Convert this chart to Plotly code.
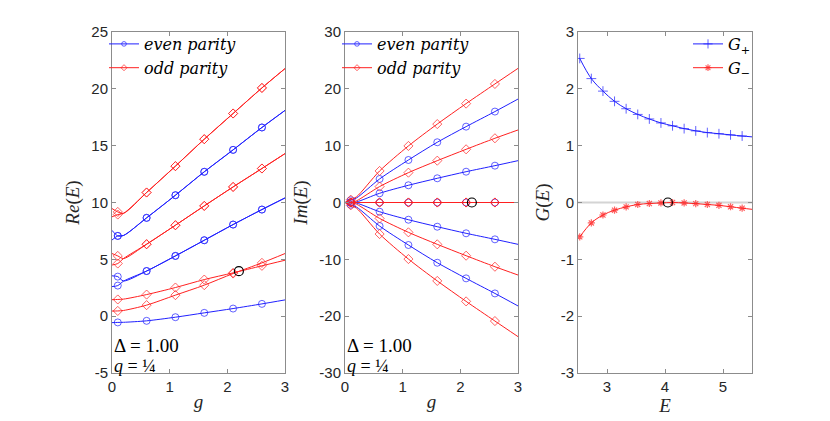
import plotly.graph_objects as go

# g grid for panels 1 and 2 (markers only at 0.1, 0.6, ... 2.6)
g_grid = [0, 0.1, 0.2, 0.6, 1.1, 1.6, 2.1, 2.6, 3.0]
g_marked = [0, 1, 0, 1, 1, 1, 1, 1, 0]

# Re(E), even parity
re_e0 = [-0.57, -0.55, -0.54, -0.41, -0.09, 0.29, 0.67, 1.08, 1.43]
re_e1a = [3.55, 3.48, 3.10, 3.97, 5.30, 6.68, 8.06, 9.38, 10.40]
re_e1b = [2.60, 2.69, 3.08, 3.97, 5.30, 6.68, 8.06, 9.38, 10.40]
re_e2a = [7.55, 7.06, 7.10, 8.65, 10.64, 12.70, 14.63, 16.60, 18.10]
re_e2b = [6.70, 7.06, 7.10, 8.65, 10.64, 12.70, 14.63, 16.60, 18.10]
# Re(E), odd parity
re_o0 = [0.45, 0.46, 0.50, 0.97, 1.85, 2.73, 3.75, 4.69, 5.51]
re_o1 = [1.45, 1.47, 1.50, 1.90, 2.52, 3.22, 3.81, 4.43, 4.92]
re_o2a = [5.51, 5.30, 5.07, 6.33, 8.00, 9.70, 11.37, 12.99, 14.30]
re_o2b = [4.50, 4.63, 5.07, 6.33, 8.00, 9.70, 11.37, 12.99, 14.30]
re_o3a = [9.47, 9.17, 9.05, 10.88, 13.20, 15.57, 17.83, 20.08, 21.78]
re_o3b = [8.74, 8.94, 9.05, 10.88, 13.20, 15.57, 17.83, 20.08, 21.78]

# Im(E), even parity
im_e0 = [0, 0, 0, 0, 0, 0, 0, 0, 0]
im_e1a = [0, 0, 0.1, 1.62, 3.03, 4.26, 5.42, 6.48, 7.36]
im_e1b = [0, 0, -0.1, -1.62, -3.03, -4.26, -5.42, -6.48, -7.36]
im_e2a = [0, 0.4, 0.8, 4.14, 7.48, 10.60, 13.35, 16.00, 18.20]
im_e2b = [0, -0.4, -0.8, -4.14, -7.48, -10.60, -13.35, -16.00, -18.20]
# Im(E), odd parity
im_o0 = [0, 0, 0, 0, 0, 0, 0, 0, 0]
im_o1 = [0, 0, 0, 0, 0, 0, 0, 0, 0]
im_o2a = [0, 0, 0.3, 2.80, 5.25, 7.36, 9.36, 11.30, 12.76]
im_o2b = [0, 0, -0.3, -2.80, -5.25, -7.36, -9.36, -11.30, -12.76]
im_o3a = [0, 0.5, 1.0, 5.55, 9.95, 13.80, 17.40, 20.86, 23.60]
im_o3b = [0, -0.5, -1.0, -5.55, -9.95, -13.80, -17.40, -20.86, -23.60]

# G(E) panel
e_pts = [2.53, 2.73, 2.93, 3.13, 3.33, 3.53, 3.73, 3.93, 4.13, 4.33, 4.53,
         4.73, 4.93, 5.13, 5.33, 5.50]
e_marked = [1] * 15 + [0]
g_plus = [2.535, 2.18, 1.96, 1.78, 1.65, 1.55, 1.47, 1.40, 1.35, 1.30, 1.26,
          1.23, 1.21, 1.19, 1.17, 1.155]
g_minus = [-0.605, -0.36, -0.22, -0.135, -0.077, -0.035, -0.018, -0.008, 0.0,
           -0.008, -0.02, -0.035, -0.05, -0.075, -0.10, -0.12]

# exceptional point marks
ep_g = [2.2]
ep_re = [3.96]
ep_im = [0]
ep_e = [4.05]
ep_G = [0]

# ticks
tick_re = [-5, 0, 5, 10, 15, 20, 25]
tick_im = [-30, -20, -10, 0, 10, 20, 30]
tick_G = [-3, -2, -1, 0, 1, 2, 3]
tick_g = [0, 1, 2, 3]
tick_e = [3, 4, 5]

BLUE = "#2020ff"
RED = "#ff2020"
SERIF = "Liberation Serif"
LEGSERIF = "DejaVu Serif"
SANS = "Liberation Sans"
W, H = 830, 421
OFF = 8  # page body margin


def px_x(a, b):
    return [(a - OFF) / W, (b - OFF) / W]


def px_y(top, bottom):
    return [1 - (bottom - OFF) / H, 1 - (top - OFF) / H]


def msizes(flags, s):
    return [s if f else 0 for f in flags]


fig = go.Figure()

# light zero line of the G(E) panel
fig.add_shape(type="line", xref="x3 domain", yref="y3", x0=0, x1=1, y0=0, y1=0,
              line=dict(color="#d4d4d4", width=2), layer="below")

even_re = [re_e0, re_e1a, re_e1b, re_e2a, re_e2b]
odd_re = [re_o0, re_o1, re_o2a, re_o2b, re_o3a, re_o3b]
even_im = [im_e0, im_e1a, im_e1b, im_e2a, im_e2b]
odd_im = [im_o0, im_o1, im_o2a, im_o2b, im_o3a, im_o3b]

for k, (ev, od, xa, ya, lg) in enumerate([
    (even_re, odd_re, "x", "y", "legend"),
    (even_im, odd_im, "x2", "y2", "legend2"),
]):
    for i, ys in enumerate(ev):
        fig.add_trace(go.Scatter(
            x=g_grid, y=ys, mode="lines+markers",
            line=dict(color=BLUE, width=1, shape="spline", smoothing=0.8),
            marker=dict(symbol="circle-open", size=msizes(g_marked, 7),
                        color=BLUE, line=dict(width=1)),
            name="<i>even parity</i>", legendgroup="even%d" % k,
            showlegend=(i == 0), xaxis=xa, yaxis=ya, legend=lg,
        ))
    for i, ys in enumerate(od):
        fig.add_trace(go.Scatter(
            x=g_grid, y=ys, mode="lines+markers",
            line=dict(color=RED, width=1, shape="spline", smoothing=0.8),
            marker=dict(symbol="diamond-open", size=msizes(g_marked, 7),
                        color=RED, line=dict(width=1)),
            name="<i>odd parity</i>", legendgroup="odd%d" % k,
            showlegend=(i == 0), xaxis=xa, yaxis=ya, legend=lg,
        ))

fig.add_trace(go.Scatter(x=ep_g, y=ep_re, mode="markers", showlegend=False,
                         marker=dict(symbol="circle-open", size=9, color="black",
                                     line=dict(width=1.2)), xaxis="x", yaxis="y"))
fig.add_trace(go.Scatter(x=ep_g, y=ep_im, mode="markers", showlegend=False,
                         marker=dict(symbol="circle-open", size=9, color="black",
                                     line=dict(width=1.2)), xaxis="x2", yaxis="y2"))

# G(E) panel
fig.add_trace(go.Scatter(
    x=e_pts, y=g_plus, mode="lines+markers",
    line=dict(color=BLUE, width=1, shape="spline"),
    marker=dict(symbol="cross-thin-open", size=msizes(e_marked, 7), color=BLUE,
                line=dict(width=1, color=BLUE)),
    name="<i>G</i><sub>+</sub>", xaxis="x3", yaxis="y3", legend="legend3",
))
fig.add_trace(go.Scatter(
    x=e_pts, y=g_minus, mode="lines+markers",
    line=dict(color=RED, width=1, shape="spline"),
    marker=dict(symbol="asterisk-open", size=msizes(e_marked, 6), color=RED,
                line=dict(width=1.2, color=RED)),
    name="<i>G</i><sub>−</sub>", xaxis="x3", yaxis="y3", legend="legend3",
))
fig.add_trace(go.Scatter(x=ep_e, y=ep_G, mode="markers", showlegend=False,
                         marker=dict(symbol="circle-open", size=9, color="black",
                                     line=dict(width=1.2)), xaxis="x3", yaxis="y3"))

ydom = px_y(32, 373)
axis_common = dict(
    showline=True, linecolor="#8c8c8c", linewidth=1, mirror="ticks",
    ticks="inside", ticklen=4, tickcolor="#8c8c8c", showgrid=False,
    zeroline=False, tickfont=dict(family=SANS, size=15, color="#262626"),
    title_font=dict(family=SERIF, size=19, color="#262626"), automargin=False,
)


def ticks(vals):
    return dict(tickmode="array", tickvals=vals, ticktext=[str(v) for v in vals])


leg_font = dict(family=LEGSERIF, size=16, color="black")
leg_y = 1 - (27 - OFF) / H

fig.update_layout(
    xaxis=dict(domain=px_x(112, 285), anchor="y", range=[0, 3], title_text="<i>g</i>",
               title_standoff=0, **ticks(tick_g), **axis_common),
    yaxis=dict(domain=ydom, anchor="x", range=[-5, 25], title_text="<i>Re</i>(<i>E</i>)",
               title_standoff=6, **ticks(tick_re), **axis_common),
    xaxis2=dict(domain=px_x(345, 518), anchor="y2", range=[0, 3], title_text="<i>g</i>",
                title_standoff=0, **ticks(tick_g), **axis_common),
    yaxis2=dict(domain=ydom, anchor="x2", range=[-30, 30], title_text="<i>Im</i>(<i>E</i>)",
                title_standoff=6, **ticks(tick_im), **axis_common),
    xaxis3=dict(domain=px_x(578, 752), anchor="y3", range=[2.5, 5.5], title_text="<i>E</i>",
                title_standoff=0, **ticks(tick_e), **axis_common),
    yaxis3=dict(domain=ydom, anchor="x3", range=[-3, 3], title_text="<i>G</i>(<i>E</i>)",
                title_standoff=6, **ticks(tick_G), **axis_common),
    legend=dict(x=(104 - OFF) / W, y=leg_y, xanchor="left", yanchor="top",
                bgcolor="rgba(0,0,0,0)", font=leg_font, tracegroupgap=0, itemwidth=30),
    legend2=dict(x=(337 - OFF) / W, y=leg_y, xanchor="left", yanchor="top",
                 bgcolor="rgba(0,0,0,0)", font=leg_font, tracegroupgap=0, itemwidth=30),
    legend3=dict(x=(756 - OFF) / W, y=leg_y, xanchor="right", yanchor="top",
                 bgcolor="rgba(0,0,0,0)", font=leg_font, tracegroupgap=0, itemwidth=30),
    width=W, height=H,
    margin=dict(l=0, r=0, t=0, b=0),
    plot_bgcolor="white", paper_bgcolor="white",
)

# parameter labels inside the first two panels
for xa, ya, yd, yq in [("x", "y", -2.55, -4.4), ("x2", "y2", -25.1, -28.8)]:
    fig.add_annotation(x=0, y=yd, xref=xa, yref=ya, xanchor="left", showarrow=False,
                       text="Δ = 1.00", font=dict(family=SERIF, size=19, color="black"))
    fig.add_annotation(x=0, y=yq, xref=xa, yref=ya, xanchor="left", showarrow=False,
                       text="<i>q</i> = ¼", font=dict(family=SERIF, size=18, color="black"))

fig.write_html("out.html")
